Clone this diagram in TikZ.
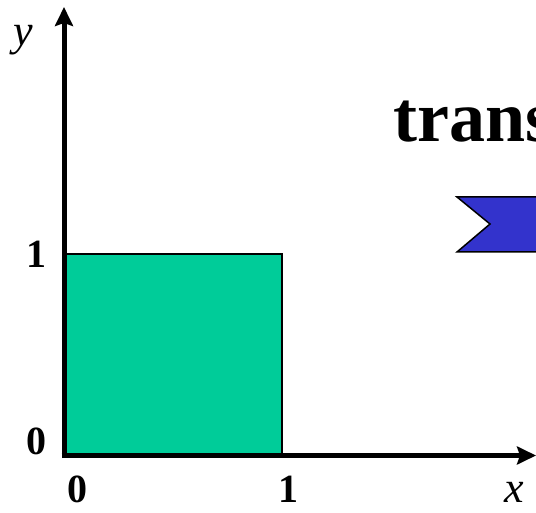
\documentclass[tikz,border=0pt]{standalone}
\usepackage{fontspec}
\setmainfont{Liberation Serif}
\usetikzlibrary{arrows.meta}
\definecolor{sqgreen}{HTML}{00CC99}
\definecolor{arrblue}{HTML}{3333CC}
\tikzset{
  axis/.style={line width=5pt,-{Stealth[length=19pt,width=18pt,inset=3pt]}},
  numlabel/.style={font=\fontsize{40}{44}\selectfont\bfseries,inner sep=0pt,anchor=base},
  varlabel/.style={font=\fontsize{44}{48}\selectfont\itshape,inner sep=0pt,anchor=base},
  title/.style={font=\fontsize{72}{80}\selectfont\bfseries,inner sep=0pt,anchor=base west}
}
\begin{document}
\begin{tikzpicture}[x=1pt,y=1pt]
\useasboundingbox (0,0) rectangle (536,512);
\clip (0,0) rectangle (536,512);
% unit square
\draw[fill=sqgreen,line width=2pt] (64,57) rectangle (282,258);
% axes
\coordinate (O) at (64,56.5);
\coordinate (xend) at (536,56.5);
\coordinate (yend) at (64,505);
\draw[axis] ([xshift=-2.5pt]O) -- (xend);
\draw[axis] ([yshift=-2.5pt]O) -- (yend);
% blue notched arrow
\draw[fill=arrblue,line width=1.5pt] (457,315) -- (560,315) -- (560,260) -- (457,260) -- (490,288) -- cycle;
% title
\node[title] (ttl) at (393,370) {trans};
% labels
\node[numlabel] (y1) at (36,244) {1};
\node[numlabel] (y0) at (36,58) {0};
\node[numlabel] (x0) at (77,10) {0};
\node[numlabel] (x1) at (288,10) {1};
\node[varlabel] (xl) at (514,10) {x};
\node[varlabel] (yl) at (23,466) {y};
\end{tikzpicture}
\end{document}
